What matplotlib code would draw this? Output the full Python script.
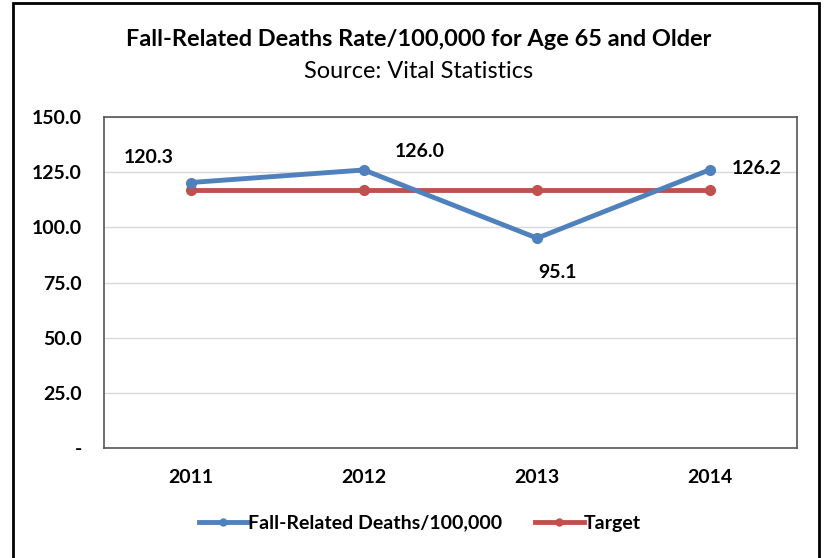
import matplotlib.pyplot as plt
from matplotlib.patches import Rectangle

years = ['2011', '2012', '2013', '2014']
deaths = [120.3, 126.0, 95.1, 126.2]
target = [117.0, 117.0, 117.0, 117.0]
yticks = [0, 25, 50, 75, 100, 125, 150]
ylabels = ['-', '25.0', '50.0', '75.0', '100.0', '125.0', '150.0']

plt.rcParams['font.family'] = ['Lato', 'DejaVu Sans']

blue = '#4F81BD'
red = '#C0504D'

fig = plt.figure(figsize=(8.25, 5.58), dpi=100)
# outer chart frame
fig.patches.append(Rectangle((12.5 / 825, -0.05), (819 - 12.5) / 825, 1.05 - 3.5 / 558,
                             transform=fig.transFigure, fill=False, edgecolor='black',
                             linewidth=2))

ax = fig.add_axes([104 / 825, 1 - 448 / 558, (797 - 104) / 825, (448 - 117) / 558])
x = range(len(years))
ax.plot(x, deaths, color=blue, lw=3.5, marker='o', ms=7, label='Fall-Related Deaths/100,000',
        zorder=3)
ax.plot(x, target, color=red, lw=3.5, marker='o', ms=7, label='Target', zorder=2)

ax.set_xlim(-0.5, 3.5)
ax.set_ylim(0, 150)
ax.set_yticks(yticks)
ax.set_yticklabels(ylabels)
ax.set_xticks(list(x))
ax.set_xticklabels(years)
ax.tick_params(length=0, labelsize=14, pad=15)
ax.tick_params(axis='y', pad=16)
for lab in ax.get_xticklabels() + ax.get_yticklabels():
    lab.set_fontweight('bold')
ax.grid(axis='y', color='#d9d9d9', lw=1)
ax.set_axisbelow(True)
for s in ax.spines.values():
    s.set_color('#555555')
    s.set_linewidth(1.2)

# data labels
offsets = [(-30, 18), (40, 13), (15, -25), (33, 1)]
for i, (v, off) in enumerate(zip(deaths, offsets)):
    ax.annotate(f'{v:.1f}', (i, v), xytext=off, textcoords='offset points',
                ha='center', va='center', fontsize=14, fontweight='bold')

fig.text(0.507, 1 - 40 / 558, 'Fall-Related Deaths Rate/100,000 for Age 65 and Older',
         ha='center', va='center', fontsize=16.9, fontweight='bold')
fig.text(0.507, 1 - 72 / 558, 'Source: Vital Statistics', ha='center', va='center',
         fontsize=16.9)

leg = fig.legend(loc='center', bbox_to_anchor=(0.509, 1 - 523 / 558), ncol=2, frameon=False,
                 fontsize=14, handlelength=2.5, columnspacing=1.7, handletextpad=0.0)
for t in leg.get_texts():
    t.set_fontweight('bold')
for h in leg.legend_handles:
    h.set_markersize(5)

fig.savefig('out.png', dpi=100)
